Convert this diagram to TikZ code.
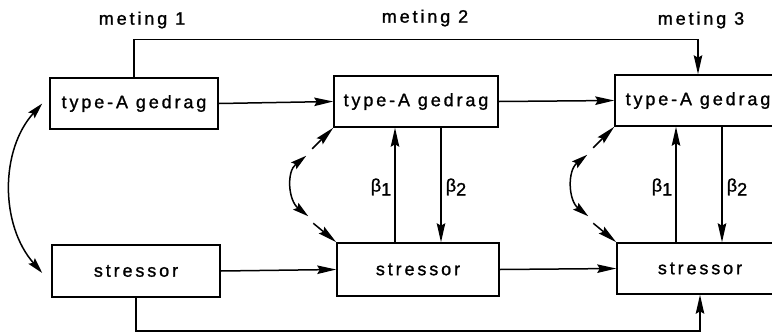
\documentclass[tikz,border=0pt]{standalone}
\usepackage{fontspec}
\setmainfont{Liberation Sans}[LetterSpace=16, FakeBold=1.2]
\usetikzlibrary{arrows.meta,calc}

\tikzset{
  box/.style={draw, line width=1.5pt, minimum width=166pt, minimum height=51pt,
    inner sep=0pt, font=\fontsize{18}{20}\selectfont},
  lbl/.style={font=\fontsize{18}{20}\selectfont, inner sep=0pt},
  beta/.style={font=\fontsize{18}{20}\selectfont, inner sep=0pt},
  link/.style={line width=1.5pt, -{Stealth[length=19pt,width=8.5pt,inset=2.5pt]}},
  both/.style={line width=1.5pt, {Stealth[length=16pt,width=8.5pt,inset=2.5pt]}-{Stealth[length=16pt,width=8.5pt,inset=2.5pt]}},
}

\begin{document}
\begin{tikzpicture}[x=1pt,y=-1pt]
\useasboundingbox (0,0) rectangle (772,333);
\begin{scope}
\clip (0,0) rectangle (772,333);

% measurement labels
\node[lbl] (m1) at (142,20) {meting 1};
\node[lbl] (m2) at (425,18) {meting 2};
\node[lbl] (m3) at (701,20) {meting 3};

% boxes
\node[box, minimum width=168pt] (b1) at (134,103.5) {type-A gedrag};
\node[box, minimum width=168pt, minimum height=52pt] (s1) at (136,271) {stressor};
\node[box, minimum width=164pt] (b2) at (416,101.5) {type-A gedrag};
\node[box, minimum width=162pt, minimum height=53pt] (s2) at (418,269.5) {stressor};
\node[box] (b3) at (698,100.5) {type-A gedrag};
\node[box] (s3) at (700,268.5) {stressor};

% horizontal paths
\draw[link] (b1.east) -- (b2.west);
\draw[link] (b2.east) -- (b3.west);
\draw[link] (s1.east) -- (s2.west);
\draw[link] (s2.east) -- (s3.west);

% lagged paths over two waves
\draw[link] (b1.north) -- ++(0,-38) -| (b3.north);
\draw[link] (s1.south) -- ++(0,33) -| (s3.south);

% cross-lagged paths
\draw[link] ($(s2.north)+(-23,0)$) -- ($(b2.south)+(-21,0)$);
\draw[link] ($(b2.south)+(25,0)$) -- ($(s2.north)+(23,0)$);
\draw[link] ($(s3.north)+(-24,0)$) -- ($(b3.south)+(-22,0)$);
\draw[link] ($(b3.south)+(24,0)$) -- ($(s3.north)+(22,0)$);

\node[beta] (be1) at (381,187) {β\raisebox{-4pt}{1}};
\node[beta] (be2) at (456,187) {β\raisebox{-4pt}{2}};
\node[beta] (be3) at (662,187) {β\raisebox{-4pt}{1}};
\node[beta] (be4) at (737,187) {β\raisebox{-4pt}{2}};

% correlation at the first wave
\draw[both] ($(b1.west)+(-7,0)$) .. controls (0,150) and (0,225) .. ($(s1.west)+(-9,2)$);

% correlated residuals at later waves
\foreach \t/\s in {b2/s2, b3/s3}{
  \draw[link] ($(\t.south west)+(-21,21)$) -- (\t.south west);
  \draw[both] ($(\t.south west)+(-27,28)$) .. controls +(-20,16) and +(-20,-16) .. ($(\s.north west)+(-28,-26)$);
  \draw[link] ($(\s.north west)+(-23,-19)$) -- (\s.north west);
}
\end{scope}
\end{tikzpicture}
\end{document}
